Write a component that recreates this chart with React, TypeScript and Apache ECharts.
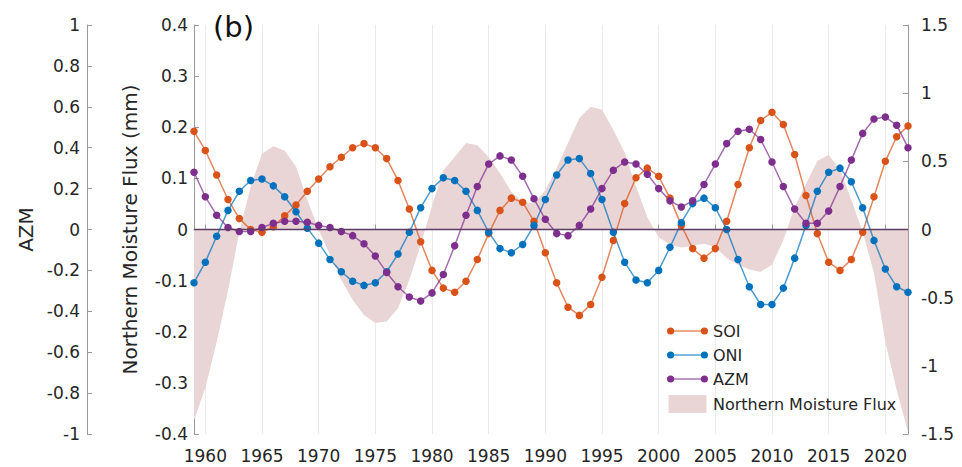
import React, { useEffect, useRef } from "react";
import * as echarts from "echarts";

// Years on the time axis
const years: number[] = [
  1959, 1960, 1961, 1962, 1963, 1964, 1965, 1966, 1967, 1968,
  1969, 1970, 1971, 1972, 1973, 1974, 1975, 1976, 1977, 1978,
  1979, 1980, 1981, 1982, 1983, 1984, 1985, 1986, 1987, 1988,
  1989, 1990, 1991, 1992, 1993, 1994, 1995, 1996, 1997, 1998,
  1999, 2000, 2001, 2002, 2003, 2004, 2005, 2006, 2007, 2008,
  2009, 2010, 2011, 2012, 2013, 2014, 2015, 2016, 2017, 2018,
  2019, 2020, 2021, 2022,
];

// Southern Oscillation Index (right axis)
const soi: number[] = [
  0.72, 0.58, 0.4, 0.22, 0.08, 0.0, -0.02, 0.02, 0.1, 0.18,
  0.28, 0.37, 0.46, 0.53, 0.6, 0.63, 0.6, 0.52, 0.36, 0.15,
  -0.09, -0.3, -0.43, -0.46, -0.38, -0.22, -0.03, 0.14, 0.23, 0.2,
  0.06, -0.17, -0.39, -0.57, -0.63, -0.55, -0.35, -0.08, 0.19, 0.38,
  0.45, 0.39, 0.23, 0.03, -0.14, -0.21, -0.14, 0.06, 0.33, 0.6,
  0.8, 0.86, 0.77, 0.55, 0.25, -0.03, -0.24, -0.3, -0.22, -0.02,
  0.24, 0.5, 0.68, 0.76,
];

// Oceanic Niño Index (right axis)
const oni: number[] = [
  -0.39, -0.24, -0.05, 0.14, 0.28, 0.36, 0.37, 0.32, 0.24, 0.13,
  0.01, -0.1, -0.22, -0.31, -0.38, -0.41, -0.39, -0.31, -0.18, -0.02,
  0.16, 0.3, 0.38, 0.36, 0.28, 0.14, -0.02, -0.14, -0.17, -0.11,
  0.03, 0.22, 0.4, 0.51, 0.52, 0.41, 0.22, -0.02, -0.24, -0.37,
  -0.39, -0.3, -0.13, 0.05, 0.19, 0.23, 0.16, 0.0, -0.22, -0.42,
  -0.55, -0.55, -0.43, -0.21, 0.03, 0.28, 0.42, 0.45, 0.35, 0.16,
  -0.08, -0.29, -0.42, -0.46,
];

// AZM index (outer left axis)
const azm: number[] = [
  0.28, 0.16, 0.07, 0.01, -0.01, -0.01, 0.01, 0.03, 0.04, 0.04,
  0.035, 0.02, 0.01, -0.01, -0.03, -0.07, -0.13, -0.21, -0.28, -0.33,
  -0.35, -0.31, -0.22, -0.08, 0.07, 0.21, 0.32, 0.36, 0.34, 0.26,
  0.15, 0.05, -0.02, -0.03, 0.02, 0.1, 0.2, 0.29, 0.33, 0.32,
  0.27, 0.2, 0.14, 0.11, 0.14, 0.22, 0.32, 0.42, 0.48, 0.49,
  0.44, 0.33, 0.21, 0.1, 0.03, 0.03, 0.09, 0.21, 0.34, 0.47,
  0.54, 0.55, 0.51, 0.4,
];

// Northern moisture flux in mm (inner left axis)
const flux: number[] = [
  -0.373, -0.31, -0.22, -0.12, -0.005, 0.084, 0.148, 0.163, 0.154, 0.123,
  0.058, -0.001, -0.05, -0.099, -0.138, -0.167, -0.183, -0.18, -0.154, -0.099,
  -0.03, 0.046, 0.116, 0.142, 0.169, 0.165, 0.142, 0.11, 0.074, 0.054,
  0.051, 0.077, 0.12, 0.169, 0.218, 0.24, 0.234, 0.195, 0.15, 0.084,
  0.024, -0.015, -0.03, -0.035, -0.032, -0.028, -0.034, -0.056, -0.069, -0.078,
  -0.083, -0.069, -0.021, 0.044, 0.089, 0.134, 0.146, 0.116, 0.058, -0.005,
  -0.085, -0.22, -0.314, -0.396,
];

const FONT = "DejaVu Sans";
const TEXT = "#262626";
const AXIS = "#9a9a9a";
const C_SOI = "#D95319";
const C_ONI = "#0072BD";
const C_AZM = "#7E2F8E";
const C_FLUX = "#E9D5D6";
const C_ZERO = "#5E3C63";

// legend glyph: thin line ending in two dots
const LINE_ICON =
  "path://M7.1,3.1 L34.1,3.1 L34.1,4.1 L7.1,4.1 Z " +
  "M0,3.6 A3.6,3.6 0 1,1 7.2,3.6 A3.6,3.6 0 1,1 0,3.6 Z " +
  "M34,3.6 A3.6,3.6 0 1,1 41.2,3.6 A3.6,3.6 0 1,1 34,3.6 Z";
const RECT_ICON = "path://M0,0 L38,0 L38,18 L0,18 Z";

const everyFifth = (_i: number, v: string) => Number(v) % 5 === 0;

export default function App() {
  const ref = useRef<HTMLDivElement>(null);

  useEffect(() => {
    if (!ref.current) return;
    const chart = echarts.init(ref.current, null, { renderer: "svg" });

    const lineSeries = (name: string, data: number[], color: string, yAxisIndex: number) => ({
      name,
      type: "line",
      yAxisIndex,
      data,
      color,
      symbol: "circle",
      symbolSize: 7.5,
      showAllSymbol: true,
      itemStyle: { color },
      lineStyle: { color, width: 1.5, opacity: 0.7 },
      z: 3,
    });

    chart.setOption({
      animation: false,
      textStyle: { fontFamily: FONT },
      grid: { left: 194, right: 54, top: 25, bottom: 33, outerBoundsMode: "none" },
      xAxis: {
        type: "category",
        data: years.map(String),
        boundaryGap: false,
        axisLine: { lineStyle: { color: AXIS } },
        axisTick: { inside: true, length: 5, interval: everyFifth, lineStyle: { color: AXIS } },
        axisLabel: { interval: everyFifth, fontSize: 17, color: TEXT, margin: 13, fontFamily: FONT },
        splitLine: { show: true, interval: everyFifth, lineStyle: { color: "#ebebeb", width: 1 } },
      },
      yAxis: [
        {
          type: "value",
          position: "left",
          min: -0.4,
          max: 0.4,
          interval: 0.1,
          name: "Northern Moisture Flux (mm)",
          nameLocation: "middle",
          nameGap: 54,
          nameTextStyle: { fontSize: 20, color: TEXT, fontFamily: FONT },
          axisLine: { show: true, lineStyle: { color: AXIS } },
          axisTick: { show: true, inside: true, length: 5, lineStyle: { color: AXIS } },
          axisLabel: { fontSize: 17, color: TEXT, margin: 6, fontFamily: FONT },
          splitLine: { show: false },
        },
        {
          type: "value",
          position: "left",
          offset: 107,
          min: -1,
          max: 1,
          interval: 0.2,
          name: "AZM",
          nameLocation: "middle",
          nameGap: 49,
          nameTextStyle: { fontSize: 20, color: TEXT, fontFamily: FONT },
          axisLine: { show: true, lineStyle: { color: AXIS } },
          axisTick: { show: true, inside: true, length: 5, lineStyle: { color: AXIS } },
          axisLabel: { fontSize: 17, color: TEXT, margin: 7, fontFamily: FONT },
          splitLine: { show: false },
        },
        {
          type: "value",
          position: "right",
          min: -1.5,
          max: 1.5,
          interval: 0.5,
          axisLine: { show: true, lineStyle: { color: AXIS } },
          axisTick: { show: true, inside: true, length: 5, lineStyle: { color: AXIS } },
          axisLabel: { fontSize: 17, color: TEXT, margin: 13, fontFamily: FONT },
          splitLine: { show: false },
        },
      ],
      legend: {
        orient: "vertical",
        left: 667,
        top: 323,
        padding: 0,
        itemWidth: 41,
        itemHeight: 18,
        itemGap: 8,
        textStyle: { fontSize: 16, color: TEXT, fontFamily: FONT },
        data: [
          { name: "SOI", icon: LINE_ICON, itemStyle: { color: C_SOI } },
          { name: "ONI", icon: LINE_ICON, itemStyle: { color: C_ONI } },
          { name: "AZM", icon: LINE_ICON, itemStyle: { color: C_AZM } },
          { name: "Northern Moisture Flux", icon: RECT_ICON, itemStyle: { color: C_FLUX } },
        ],
      },
      graphic: [
        {
          type: "text",
          left: 213,
          top: 12,
          style: { text: "(b)", fontSize: 29, fill: "#111", fontFamily: FONT },
        },
      ],
      series: [
        {
          name: "Northern Moisture Flux",
          type: "line",
          yAxisIndex: 0,
          data: flux,
          color: C_FLUX,
          symbol: "none",
          lineStyle: { width: 0, color: C_FLUX },
          itemStyle: { color: C_FLUX },
          areaStyle: { color: C_FLUX, opacity: 1 },
          z: 1,
          markLine: {
            silent: true,
            symbol: ["none", "none"],
            label: { show: false },
            lineStyle: { color: C_ZERO, width: 1.3, type: "solid" },
            data: [{ yAxis: 0 }],
          },
        },
        lineSeries("SOI", soi, C_SOI, 2),
        lineSeries("ONI", oni, C_ONI, 2),
        lineSeries("AZM", azm, C_AZM, 1),
      ],
    });

    return () => chart.dispose();
  }, []);

  return (
    <div
      ref={ref}
      style={{ position: "fixed", left: 0, top: 0, width: 962, height: 467, background: "#fff" }}
    />
  );
}
